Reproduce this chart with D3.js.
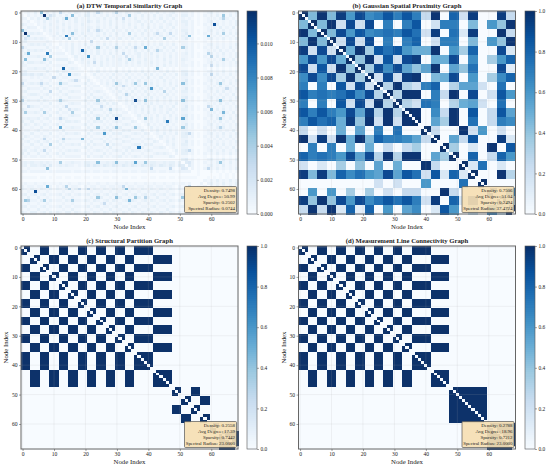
<!DOCTYPE html>
<html>
<head>
<meta charset="utf-8">
<script src="https://cdn.jsdelivr.net/npm/d3@7"></script>
<style>
html,body{margin:0;padding:0;background:#fff;}
svg text{font-family:"Liberation Serif","Times New Roman",serif;fill:#222;}
</style>
</head>
<body>
<div id="chart"></div>
<script>
var nodeCount = 69;
var blockSize = 3;
var tickValues = [0,10,20,30,40,50,60];
var bluesStops = ["#f7fbff","#deebf7","#c6dbef","#9ecae1","#6baed6","#4292c6","#2171b5","#08519c","#08306b"];

// panel a: background level of every cell (upper triangle, one digit = 0.00035)
var dtwLevels = [
".121312131 2132121321 2412131213 1213212312 1213121231 0221201012 312121213",
"..21213121 3121312121 3412121312 1212312131 2131212312 0331201021 213121312",
"...2131213 1213121312 1311213121 3121213121 2121312131 0212101012 121312121",
"....121312 1312121312 1421312131 2131212312 1312131212 0331201012 312121213",
".....21213 1213121213 1211212131 2121312131 2121212312 0231201021 213121213",
"......1312 1312131212 1321312121 3121213121 3121312131 0221200012 121312131",
".......213 1213121312 1412131213 1213121213 1212131212 0331201012 312131212",
"........12 1312121213 1221213121 3121312131 2131212312 0241201021 213121313",
".........1 2131213121 3121312131 2121213121 2121312131 0321100012 121212121",
".......... 1213121312 1212131212 1312131213 1312121212 0241201012 312131213",
".......... .010101010 1010101010 1010101010 1010101010 0110100010 101010101",
".......... ..21213121 3121213121 3121312131 2121312131 0221201012 312121213",
".......... ...1213121 1312121312 1213121213 1212131212 0231201021 213121312",
".......... ....213121 3121312121 3121213121 3121312131 0121200012 121312121",
".......... .....13121 2121312131 2131212312 1312121212 0231201012 312131213",
".......... ......1312 1312121213 1213121312 1213121312 0221201021 213121213",
".......... .......213 1213121312 1312131213 1212131212 0321100012 121212131",
".......... ........12 1312131212 1213121312 1312121312 0211201012 312121213",
".......... .........1 1212131212 1212121212 1212131212 0221201021 213121212",
".......... .......... 1010101010 1010101010 1010101010 0110100010 101010101",
".......... .......... .121312121 3121312131 2121213121 0331201012 312131213",
".......... .......... ..13121213 1213121213 1312131213 0341201021 213121312",
".......... .......... ...1212131 2121312121 3121312121 0221100012 121212121",
".......... .......... ....121213 1213121312 1212131212 0241201012 312131213",
".......... .......... .....21312 1312131213 1312121312 0331201021 213121312",
".......... .......... ......1213 1213121312 1213121213 0221100012 121312121",
".......... .......... .......121 3121213121 3121312131 0241201012 312121213",
".......... .......... ........12 1312131213 1212131212 0331201021 213131212",
".......... .......... .........1 2121312121 3121213121 0221100012 121212131",
".......... .......... .......... 1312131213 1312131212 0341201012 312131213",
".......... .......... .......... .213121312 1213121312 0331201021 213121312",
".......... .......... .......... ..12131213 1312121213 0221100012 121312121",
".......... .......... .......... ...1213121 3121312131 0241201012 312121213",
".......... .......... .......... ....212131 2131212312 0331201021 213131212",
".......... .......... .......... .....12121 3121213121 0221100012 121212131",
".......... .......... .......... ......1312 1213121312 0341201012 312131213",
".......... .......... .......... .......213 1312131213 0331201021 213121312",
".......... .......... .......... ........12 1212131212 0221100012 121312121",
".......... .......... .......... .........1 3121213121 0241201012 312121213",
".......... .......... .......... .......... 1312131212 0331201021 213131212",
".......... .......... .......... .......... .213121312 0221100012 121212131",
".......... .......... .......... .......... ..12131213 0341201012 312131213",
".......... .......... .......... .......... ...1312121 0331201021 213121312",
".......... .......... .......... .......... ....212131 0221100012 121312121",
".......... .......... .......... .......... .....13121 0241201012 312121213",
".......... .......... .......... .......... ......2131 0331201021 213131212",
".......... .......... .......... .......... .......121 0221100012 121212131",
".......... .......... .......... .......... ........13 0341201012 312131213",
".......... .......... .......... .......... .........2 0331201021 213121312",
".......... .......... .......... .......... .......... 0110100010 101010101",
".......... .......... .......... .......... .......... .341201012 312131213",
".......... .......... .......... .......... .......... ..45201021 213121312",
".......... .......... .......... .......... .......... ...4201012 312131212",
".......... .......... .......... .......... .......... ....201021 213121213",
".......... .......... .......... .......... .......... .....01000 101010101",
".......... .......... .......... .......... .......... ......1000 000101010",
".......... .......... .......... .......... .......... .......001 010101010",
".......... .......... .......... .......... .......... ........21 213121312",
".......... .......... .......... .......... .......... .........2 312131213",
".......... .......... .......... .......... .......... .......... 213121312",
".......... .......... .......... .......... .......... .......... .12131213",
".......... .......... .......... .......... .......... .......... ..3121312",
".......... .......... .......... .......... .......... .......... ...121213",
".......... .......... .......... .......... .......... .......... ....31213",
".......... .......... .......... .......... .......... .......... .....1312",
".......... .......... .......... .......... .......... .......... ......213",
".......... .......... .......... .......... .......... .......... .......12",
".......... .......... .......... .......... .......... .......... ........1"
];
// panel a: the stand-out cells, [row, col, value]
var dtwPeaks = [
[1,7,.0118],[0,6,.005],[2,8,.004],[2,14,.006],[1,16,.005],[1,64,.0045],[4,61,.0105],[8,14,.0085],
[7,16,.005],[9,15,.004],[8,53,.005],[8,59,.006],[9,45,.004],[7,47,.003],[7,64,.004],[7,43,.003],
[0,24,.003],[0,30,.0035],[0,12,.003],[6,24,.003],[13,19,.0095],[12,24,.0045],[15,21,.0075],[12,39,.006],
[16,34,.004],[16,64,.004],[19,43,.0055],[10,22,.0028],[17,23,.0028],[12,30,.0038],[12,36,.003],[12,51,.004],
[13,43,.0035],[14,59,.0035],[15,60,.0035],[18,60,.0028],[21,60,.0032],[9,27,.003],[2,32,.0025],[14,32,.003],
[15,33,.002],[1,34,.004],[7,34,.004],[24,30,.0045],[24,36,.0045],[24,39,.0045],[24,51,.005],[24,63,.0045],
[25,32,.0028],[26,41,.007],[27,45,.0035],[28,33,.0035],[26,65,.0028],[30,36,.0108],[30,39,.005],[30,51,.005],
[30,63,.005],[32,59,.003],[33,60,.0055],[34,64,.0055],[36,39,.0045],[36,51,.0065],[36,63,.0045],[37,46,.0085],
[39,51,.0045],[39,63,.0035],[41,53,.003],[47,53,.003],[53,59,.003],[51,63,.0045],[2,64,.0035],[1,9,.002]
];
// panel b: one value per 3x3 group of nodes
var gaussianGroups = [
[1,.45,.98,.45,.95,.6,.9,.65,.7,.85,.7,.85,.7,.25,.98,0,.8,.2,.95,0,0,.95,.25],
[.45,1,.45,.98,.2,.9,.2,.9,0,.7,0,.7,.85,0,.2,.7,.7,0,.45,0,.6,.4,.98],
[.98,.45,1,.45,.9,.6,.85,.65,.7,.75,.7,.85,.75,.2,.95,0,.75,.15,.95,0,0,.98,.25],
[.45,.98,.45,1,.2,.9,.2,.9,0,.7,0,.7,.8,0,.2,.7,.7,0,.45,0,.6,.4,.98],
[.95,.2,.9,.2,1,.5,.98,.35,.85,.75,.85,.6,.5,.5,.98,0,.6,.35,.8,0,0,.9,.15],
[.6,.9,.6,.9,.5,1,.4,.98,.2,.85,.2,.9,.95,0,.5,.5,.9,0,.65,0,.35,.6,.8],
[.9,.2,.85,.2,.98,.4,1,.35,.9,.65,.9,.55,.4,.55,.98,0,.55,.4,.75,0,0,.9,.1],
[.65,.9,.65,.9,.35,.98,.35,1,.2,.9,.2,.95,.98,0,.45,.5,.9,0,.6,0,.35,.65,.8],
[.7,0,.7,0,.85,.2,.9,.2,1,.3,.98,.3,.2,.7,.8,0,.3,.55,.55,.2,0,.75,0],
[.85,.7,.75,.7,.75,.85,.65,.9,.3,1,.3,.98,.98,0,.7,.25,.98,0,.9,0,.2,.85,.6],
[.7,0,.7,0,.85,.2,.9,.2,.98,.3,1,.3,.2,.75,.7,0,.3,.5,.55,.2,0,.75,0],
[.85,.7,.85,.7,.6,.9,.55,.95,.3,.98,.3,1,.98,0,.65,.25,.98,0,.85,0,.25,.85,.55],
[.7,.85,.75,.8,.5,.95,.4,.98,.2,.98,.2,.98,1,0,.55,.35,.98,0,.75,0,.25,.7,.65],
[.25,0,.2,0,.5,0,.55,0,.7,0,.75,0,0,1,.25,0,0,.98,.2,.6,0,.2,0],
[.98,.2,.95,.2,.98,.5,.98,.45,.8,.7,.7,.65,.55,.25,1,0,.55,.25,.85,0,0,.95,.15],
[0,.7,0,.7,0,.5,0,.5,0,.25,0,.25,.35,0,0,1,.35,0,.15,0,.98,0,.85],
[.8,.7,.75,.7,.6,.9,.55,.9,.3,.98,.3,.98,.98,0,.55,.35,1,0,.8,0,.25,.8,.6],
[.2,0,.15,0,.35,0,.4,0,.55,0,.5,0,0,.98,.25,0,0,1,.15,.75,0,.15,0],
[.95,.45,.95,.45,.8,.65,.75,.6,.55,.9,.55,.85,.75,.2,.85,.15,.8,.15,1,0,0,.98,.3],
[0,0,0,0,0,0,0,0,.2,0,.2,0,0,.6,0,0,0,.75,0,1,0,0,0],
[0,.6,0,.6,0,.35,0,.35,0,.2,0,.25,.25,0,0,.98,.25,0,0,0,1,0,.7],
[.95,.4,.98,.4,.9,.6,.9,.65,.75,.85,.75,.85,.7,.2,.95,0,.8,.15,.98,0,0,1,.3],
[.25,.98,.25,.98,.15,.8,.1,.8,0,.6,0,.55,.65,0,.15,.85,.6,0,.3,0,.7,.3,1]
];
// panels c and d: which node ranges are linked with each other
var lineGroupA = [[0,2],[6,8],[12,14],[18,20],[24,26],[30,32],[36,41]];
var lineGroupB = [[3,5],[9,11],[15,17],[21,23],[27,29],[33,35],[42,47]];
var structuralCliques = [lineGroupA,lineGroupB,[[48,50],[54,56]],[[51,53],[57,59]],[[60,62]],[[63,68]]];
var measurementCliques = [lineGroupA,lineGroupB,[[48,59]],[[60,68]]];

var titles = ["(a) DTW Temporal Similarity Graph","(b) Gaussian Spatial Proximity Graph","(c) Structural Partition Graph","(d) Measurement Line Connectivity Graph"];
var statLines = [
["Density: 0.7498","Avg Degree: 50.99","Sparsity: 0.2502","Spectral Radius: 0.0744"],
["Density: 0.7506","Avg Degree: 51.04","Sparsity: 0.2494","Spectral Radius: 37.4724"],
["Density: 0.2558","Avg Degree: 17.39","Sparsity: 0.7442","Spectral Radius: 23.0000"],
["Density: 0.2788","Avg Degree: 18.96","Sparsity: 0.7212","Spectral Radius: 23.0000"]
];
var dtwColorTicks = [0,.002,.004,.006,.008,.01];
var unitColorTicks = [0,.2,.4,.6,.8,1];

function emptyMatrix(){
  return d3.range(nodeCount).map(function(){return d3.range(nodeCount).map(function(){return 0;});});
}
function dtwMatrix(){
  var m = emptyMatrix();
  dtwLevels.forEach(function(row,i){
    var cells = row.replace(/ /g,"");
    for(var j=i+1;j<nodeCount;j++){
      var v = (+cells[j]||0)*0.00035;
      m[i][j]=v; m[j][i]=v;
    }
  });
  dtwPeaks.forEach(function(p){ m[p[0]][p[1]]=p[2]; m[p[1]][p[0]]=p[2]; });
  return m;
}
function gaussianMatrix(){
  var m = emptyMatrix();
  for(var i=0;i<nodeCount;i++){
    for(var j=0;j<nodeCount;j++){
      m[i][j] = i===j ? 0 : gaussianGroups[Math.floor(i/blockSize)][Math.floor(j/blockSize)];
    }
  }
  return m;
}
function cliqueMatrix(cliques){
  var m = emptyMatrix();
  cliques.forEach(function(clique){
    var nodes = [];
    clique.forEach(function(s){ nodes = nodes.concat(d3.range(s[0],s[1]+1)); });
    nodes.forEach(function(a){ nodes.forEach(function(b){ if(a!==b) m[a][b]=1; }); });
  });
  return m;
}

var svg = d3.select("#chart").append("svg").attr("width",550).attr("height",469);

// soft edge on the cells, the source image is a little smoothed
svg.append("defs").append("filter").attr("id","soft")
  .attr("x","-2%").attr("y","-2%").attr("width","104%").attr("height","104%")
  .append("feGaussianBlur").attr("stdDeviation",0.4);

// same blues as the original colour map, stretched on 0..1
var bluesRamp = d3.scaleLinear().domain(bluesStops.map(function(d,i){return i/(bluesStops.length-1);})).range(bluesStops);

function drawPanel(idx,matrix,maxValue,colorTicks,tickFormat,box){
  var g = svg.append("g").attr("class","panel");
  var x = d3.scaleLinear().domain([-0.5,nodeCount-0.5]).range([box.left,box.right]);
  var y = d3.scaleLinear().domain([-0.5,nodeCount-0.5]).range([box.top,box.bottom]);
  var color = function(v){return bluesRamp(v/maxValue);};

  var cells = [];
  matrix.forEach(function(row,i){ row.forEach(function(v,j){ cells.push({r:i,c:j,v:v}); }); });
  g.append("g").attr("filter","url(#soft)").attr("shape-rendering","crispEdges")
    .selectAll("rect").data(cells).enter().append("rect")
    .attr("x",function(d){return x(d.c-0.5);})
    .attr("y",function(d){return y(d.r-0.5);})
    .attr("width",x(1)-x(0)+0.6)
    .attr("height",y(1)-y(0)+0.6)
    .style("fill",function(d){return color(d.v);});

  // faint grid over the image
  var grid = g.append("g");
  tickValues.forEach(function(t){
    grid.append("line").attr("x1",x(t)).attr("x2",x(t)).attr("y1",box.top).attr("y2",box.bottom);
    grid.append("line").attr("y1",y(t)).attr("y2",y(t)).attr("x1",box.left).attr("x2",box.right);
  });
  grid.selectAll("line").attr("stroke","#b0b0b0").attr("stroke-width",0.5).attr("stroke-opacity",0.3);

  g.append("rect").attr("x",box.left).attr("y",box.top).attr("width",box.right-box.left).attr("height",box.bottom-box.top)
    .attr("fill","none").attr("stroke","#666").attr("stroke-width",1);

  var xAxis = d3.axisBottom(x).tickValues(tickValues).tickSize(2).tickPadding(1.5);
  var yAxis = d3.axisLeft(y).tickValues(tickValues).tickSize(2).tickPadding(1.5);
  var ax = g.append("g").attr("transform","translate(0,"+box.bottom+")").call(xAxis);
  var ay = g.append("g").attr("transform","translate("+box.left+",0)").call(yAxis);
  [ax,ay].forEach(function(a){
    a.select(".domain").remove();
    a.selectAll("line").attr("stroke","#444").attr("stroke-width",0.5);
    a.selectAll("text").attr("font-size",5.6).attr("fill","#222");
  });

  g.append("text").attr("x",(box.left+box.right)/2).attr("y",box.top-2.8)
    .attr("text-anchor","middle").attr("font-size",box.titleSize).attr("font-weight","bold").text(titles[idx]);
  g.append("text").attr("x",(box.left+box.right)/2).attr("y",box.bottom+15.3)
    .attr("text-anchor","middle").attr("font-size",6.8).text("Node Index");
  g.append("text").attr("transform","translate("+(box.left-13)+","+((box.top+box.bottom)/2)+") rotate(-90)")
    .attr("text-anchor","middle").attr("font-size",6.8).text("Node Index");

  // stats box, lower right corner
  var bw=52, bh=26;
  var bx=box.right-bw-1.5, by=box.bottom-bh-1.5;
  g.append("rect").attr("x",bx).attr("y",by).attr("width",bw).attr("height",bh).attr("rx",1)
    .attr("fill","#f5deb3").attr("fill-opacity",0.92).attr("stroke","#555").attr("stroke-width",0.7);
  statLines[idx].forEach(function(s,i){
    g.append("text").attr("x",bx+bw-1.5).attr("y",by+5.4+i*6.05)
      .attr("text-anchor","end").attr("font-size",4.9).text(s);
  });

  // colour bar
  var cy = d3.scaleLinear().domain([0,maxValue]).range([box.bottom,box.top]);
  var barSteps = d3.range(0,100).map(function(i){return i/100;});
  g.append("g").attr("shape-rendering","crispEdges").selectAll("rect").data(barSteps).enter().append("rect")
    .attr("x",box.barLeft).attr("width",10)
    .attr("y",function(d){return cy((d+0.01)*maxValue);})
    .attr("height",(box.bottom-box.top)/100+0.6)
    .style("fill",function(d){return bluesRamp(d+0.005);});
  g.append("rect").attr("x",box.barLeft).attr("y",box.top).attr("width",10).attr("height",box.bottom-box.top)
    .attr("fill","none").attr("stroke","#555").attr("stroke-width",0.6);
  var cAxis = d3.axisRight(cy).tickValues(colorTicks).tickFormat(d3.format(tickFormat)).tickSize(2).tickPadding(1.5);
  var ac = g.append("g").attr("transform","translate("+(box.barLeft+10)+",0)").call(cAxis);
  ac.select(".domain").remove();
  ac.selectAll("line").attr("stroke","#444").attr("stroke-width",0.5);
  ac.selectAll("text").attr("font-size",5.4).attr("fill","#222");
}

drawPanel(0,dtwMatrix(),0.0119,dtwColorTicks,".3f",{left:21,right:238,top:11,bottom:214,barLeft:247,titleSize:6.7});
drawPanel(1,gaussianMatrix(),1,unitColorTicks,".1f",{left:298.5,right:515.5,top:11,bottom:214,barLeft:525,titleSize:6.7});
drawPanel(2,cliqueMatrix(structuralCliques),1,unitColorTicks,".1f",{left:21,right:238,top:246,bottom:449,barLeft:247,titleSize:6.7});
drawPanel(3,cliqueMatrix(measurementCliques),1,unitColorTicks,".1f",{left:298.5,right:515.5,top:246,bottom:449,barLeft:525,titleSize:6.7});
</script>
</body>
</html>
